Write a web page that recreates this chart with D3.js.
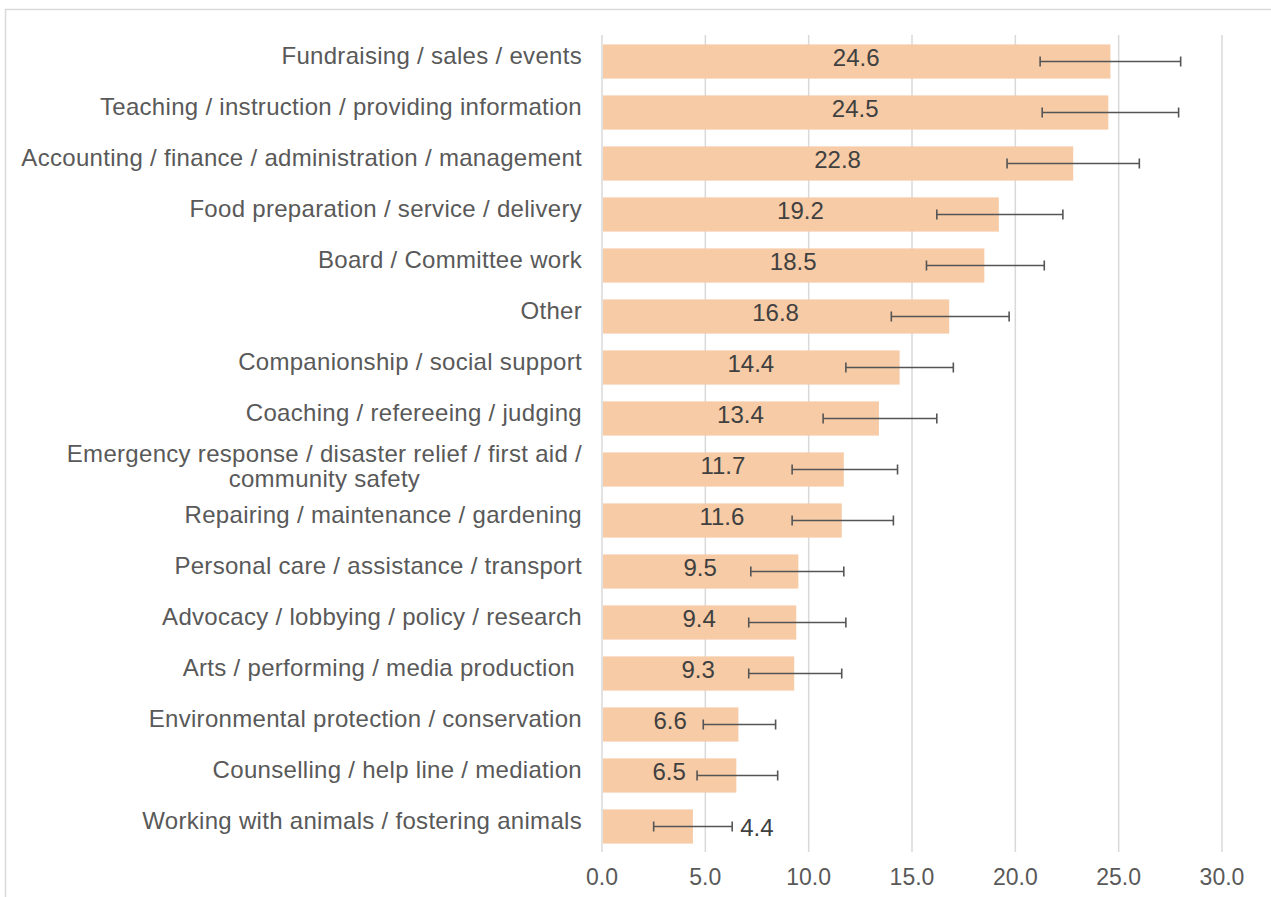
<!DOCTYPE html>
<html><head><meta charset="utf-8">
<script src="https://cdn.jsdelivr.net/npm/d3@7"></script>
<style>
html,body{margin:0;padding:0;background:#fff;}
svg{display:block;font-family:"Liberation Sans",Arial,sans-serif;}
</style></head>
<body><svg id="chart" width="1271" height="897"></svg>
<script>
const categories = [
  "Fundraising / sales / events",
  "Teaching / instruction / providing information",
  "Accounting / finance / administration / management",
  "Food preparation / service / delivery",
  "Board / Committee work",
  "Other",
  "Companionship / social support",
  "Coaching / refereeing / judging",
  "Emergency response / disaster relief / first aid /|community safety",
  "Repairing / maintenance / gardening",
  "Personal care / assistance / transport",
  "Advocacy / lobbying / policy / research",
  "Arts / performing / media production ",
  "Environmental protection / conservation",
  "Counselling / help line / mediation",
  "Working with animals / fostering animals"
];
const values = [24.6,24.5,22.8,19.2,18.5,16.8,14.4,13.4,11.7,11.6,9.5,9.4,9.3,6.6,6.5,4.4];
const errLow  = [21.2,21.3,19.6,16.2,15.7,14.0,11.8,10.7,9.2,9.2,7.2,7.1,7.1,4.9,4.6,2.5];
const errHigh = [28.0,27.9,26.0,22.3,21.4,19.7,17.0,16.2,14.3,14.1,11.7,11.8,11.6,8.4,8.5,6.3];
const ticks = [0,5,10,15,20,25,30];

(function(){
const svg = d3.select("#chart");
const pL = 602, pR = 1222, pT = 35, pB = 852;
const x = d3.scaleLinear().domain([0,30]).range([pL,pR]);
const y = d3.scaleBand().domain(categories).range([pT+1, pB]).paddingInner(0.33).paddingOuter(0.165);

// outer border
svg.append("rect").attr("x",5.5).attr("y",9.5).attr("width",1300).attr("height",1000)
  .attr("fill","none").attr("stroke","#d9d9d9").attr("stroke-width",1.5);

// gridlines
svg.append("g").selectAll("line").data(ticks).join("line")
  .attr("x1",d=>x(d)).attr("x2",d=>x(d)).attr("y1",pT).attr("y2",pB)
  .attr("stroke","#d9d9d9").attr("stroke-width",1.5);

// bars
svg.append("g").selectAll("rect").data(values).join("rect")
  .attr("x",x(0)+1).attr("y",(d,i)=>y(categories[i]))
  .attr("width",d=>x(d)-x(0)-1).attr("height",y.bandwidth())
  .attr("fill","#f6cba6");

// error bars
const eg = svg.append("g").attr("stroke","#555555").attr("stroke-width",1.6);
values.forEach((v,i)=>{
  const cy = y(categories[i]) + y.bandwidth()/2;
  eg.append("line").attr("x1",x(errLow[i])).attr("x2",x(errHigh[i])).attr("y1",cy).attr("y2",cy);
  eg.append("line").attr("x1",x(errLow[i])).attr("x2",x(errLow[i])).attr("y1",cy-5).attr("y2",cy+5);
  eg.append("line").attr("x1",x(errHigh[i])).attr("x2",x(errHigh[i])).attr("y1",cy-5).attr("y2",cy+5);
});

// value labels
svg.append("g").selectAll("text").data(values).join("text")
  .attr("x",(d,i)=> d < 5 ? x(errHigh[i]) + 8 : (x(0)+x(d))/2)
  .attr("y",(d,i)=>y(categories[i]) + y.bandwidth()/2 + (d<5?9:4))
  .attr("text-anchor",d=> d<5 ? "start" : "middle")
  .attr("font-size",24).attr("fill","#404040")
  .text(d=>d.toFixed(1));

// category labels
const cg = svg.append("g").attr("font-size",24).attr("fill","#595959").attr("letter-spacing","0.3px");
categories.forEach(c=>{
  const lines = c.split("|");
  const cy = y(c) + y.bandwidth()/2;
  if(lines.length===1){
    cg.append("text").attr("x",582).attr("y",cy+2)
      .attr("text-anchor","end").style("white-space","pre").text(lines[0]);
  } else {
    const t1 = cg.append("text").attr("x",582).attr("y",cy-8)
      .attr("text-anchor","end").text(lines[0]);
    const w = t1.node().getComputedTextLength();
    cg.append("text").attr("x",582 - w/2).attr("y",cy+17)
      .attr("text-anchor","middle").text(lines[1]);
  }
});

// x axis labels
svg.append("g").selectAll("text").data(ticks).join("text")
  .attr("x",d=>x(d)).attr("y",885)
  .attr("text-anchor","middle").attr("font-size",23).attr("fill","#595959")
  .text(d=>d.toFixed(1));
})();
</script></body></html>
